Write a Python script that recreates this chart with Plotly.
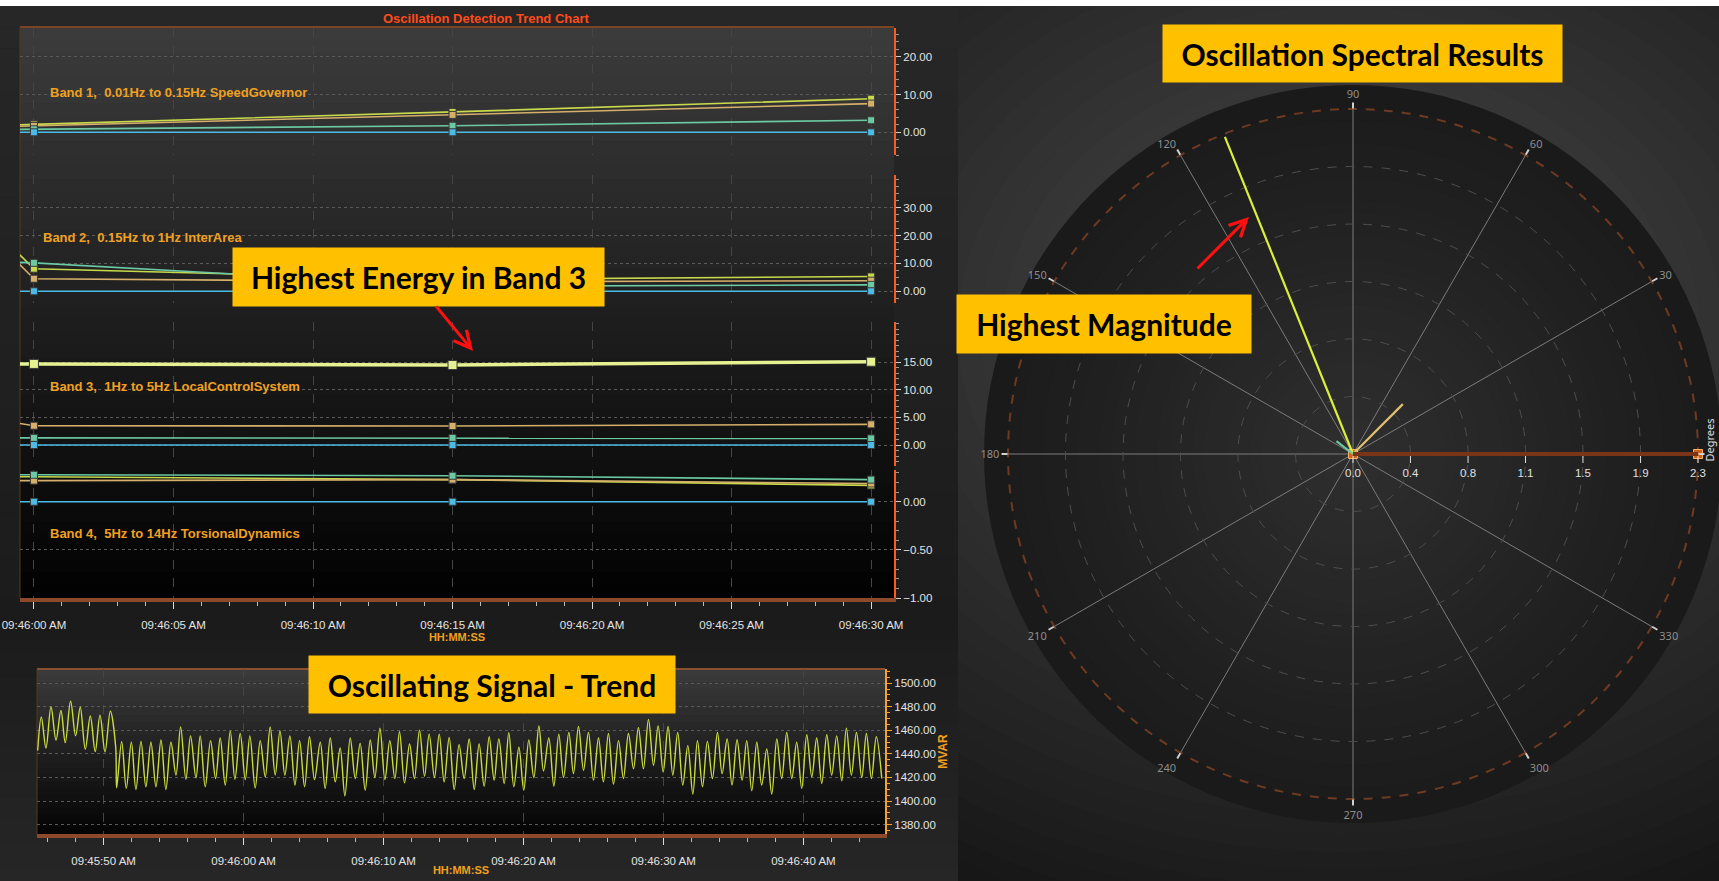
import plotly.graph_objects as go
import pandas as pd

W, H = 1719, 881

# ------------------------------------------------------------------ data
trend_times = ["2024-01-01 09:45:59", "2024-01-01 09:46:00",
               "2024-01-01 09:46:15", "2024-01-01 09:46:30"]
series_names = ["Signal A", "Signal B", "Signal C", "Signal D"]

band_labels = ["Band 1,  0.01Hz to 0.15Hz SpeedGovernor",
               "Band 2,  0.15Hz to 1Hz InterArea",
               "Band 3,  1Hz to 5Hz LocalControlSystem",
               "Band 4,  5Hz to 14Hz TorsionalDynamics"]

band1_values = [[1.9, 2.1, 5.4, 8.9], [1.5, 1.7, 4.6, 7.6],
                [0.74, 0.8, 1.75, 3.2], [0.0, 0.0, 0.0, 0.0]]
band2_values = [[17.9, 8.1, 4.2, 5.3], [14.5, 4.5, 3.4, 3.8],
                [10.5, 10.2, 1.8, 2.3], [0.0, 0.0, 0.0, 0.0]]
band3_values = [[14.7, 14.7, 14.5, 15.1], [4.3, 3.5, 3.45, 3.75],
                [1.3, 1.3, 1.3, 1.2], [0.0, 0.0, 0.0, 0.0]]
band4_values = [[0.26, 0.26, 0.23, 0.17], [0.22, 0.22, 0.23, 0.19],
                [0.28, 0.28, 0.27, 0.23], [0.0, 0.0, 0.0, 0.0]]

band_tickvals = [[0, 10, 20], [0, 10, 20, 30], [0, 5, 10, 15], [-1, -0.5, 0]]

signal_base = "2024-01-01 09:45:45"
signal_offsets_s = [
    0.29, 0.55, 0.88, 1.24, 1.60, 1.95, 2.26, 2.64, 3.00, 3.33, 3.69, 4.05, 4.40, 4.74,
    5.10, 5.48, 5.86, 5.93, 6.29, 6.62, 6.98, 7.31, 7.67, 8.02, 8.38, 8.74, 9.10, 9.45,
    9.81, 10.17, 10.50, 10.88, 11.21, 11.60, 11.90, 12.26, 12.64, 13.00, 13.33, 13.69,
    14.05, 14.38, 14.76, 15.12, 15.45, 15.83, 16.19, 16.55, 16.90, 17.26, 17.60, 17.95,
    18.31, 18.67, 19.00, 19.36, 19.71, 20.07, 20.48, 20.83, 21.19, 21.55, 21.90, 22.24,
    22.62, 22.98, 23.33, 23.69, 24.05, 24.38, 24.74, 25.10, 25.45, 25.81, 26.14, 26.50,
    26.86, 27.21, 27.57, 27.93, 28.26, 28.64, 28.98, 29.33, 29.69, 30.05, 30.40, 30.76,
    31.12, 31.48, 31.83, 32.19, 32.55, 32.90, 33.24, 33.62, 33.95, 34.31, 34.67, 35.02,
    35.38, 35.74, 36.10, 36.43, 36.81, 37.17, 37.52, 37.86, 38.24, 38.57, 38.93, 39.29,
    39.64, 40.00, 40.36, 40.71, 41.07, 41.43, 41.79, 42.14, 42.50, 42.86, 43.21, 43.57,
    43.93, 44.29, 44.62, 44.98, 45.33, 45.67, 46.02, 46.38, 46.74, 47.10, 47.43, 47.79,
    48.14, 48.50, 48.86, 49.19, 49.55, 49.90, 50.26, 50.62, 50.95, 51.31, 51.67, 52.02,
    52.38, 52.74, 53.10, 53.45, 53.81, 54.17, 54.52, 54.88, 55.24, 55.60, 55.95, 56.31,
    56.67, 57.02, 57.38, 57.74, 58.07, 58.43, 58.79, 59.17, 59.50, 59.86, 60.21, 60.60]
signal_mvar = [
    1442.8, 1471.3, 1445.0, 1479.9, 1451.7, 1476.8, 1449.5, 1484.6, 1455.3, 1479.6, 1443.9, 1472.1, 1441.9, 1472.9,
    1441.7, 1476.3, 1446.1, 1411.2, 1450.3, 1410.7, 1449.8, 1409.8, 1450.6, 1412.1, 1449.8, 1412.1, 1451.7, 1409.8,
    1449.8, 1421.9, 1462.9, 1418.5, 1455.3, 1419.6, 1455.3, 1412.1, 1451.2, 1419.1, 1453.4, 1413.5,
    1459.5, 1418.5, 1457.3, 1418.2, 1455.3, 1411.0, 1451.2, 1420.5, 1462.9, 1422.1, 1459.5, 1421.9,
    1455.3, 1413.5, 1451.2, 1412.1, 1454.5, 1418.2, 1449.8, 1410.7, 1453.4, 1416.3, 1445.0, 1404.3,
    1453.4, 1419.1, 1448.9, 1409.3, 1451.7, 1419.9, 1461.8, 1418.2, 1451.2, 1419.1, 1458.7, 1415.4,
    1448.4, 1419.1, 1460.1, 1421.0, 1456.7, 1419.9, 1456.7, 1416.3, 1453.9, 1409.8, 1447.8, 1419.1,
    1452.6, 1409.8, 1448.4, 1412.6, 1454.5, 1417.7, 1452.6, 1414.9, 1457.9, 1412.1, 1445.6, 1409.3,
    1451.7, 1419.9, 1463.7, 1425.5, 1453.4, 1412.6, 1456.7, 1419.9, 1458.1, 1423.2, 1463.2, 1426.0,
    1458.1, 1417.7, 1453.4, 1416.3, 1457.3, 1414.3, 1451.2, 1419.1, 1457.3, 1427.4, 1462.3, 1427.4,
    1469.3, 1430.2, 1463.7, 1424.6, 1463.2, 1421.9, 1458.1, 1413.5, 1447.0, 1405.9, 1451.2, 1412.1,
    1450.6, 1419.1, 1458.1, 1423.2, 1452.6, 1413.5, 1452.0, 1417.7, 1451.2, 1408.7, 1449.8, 1413.5,
    1444.2, 1405.9, 1452.6, 1419.1, 1458.1, 1419.1, 1449.8, 1410.7, 1456.2, 1420.5, 1453.4, 1414.9,
    1456.2, 1421.9, 1455.3, 1417.1, 1461.8, 1421.9, 1458.1, 1419.9, 1457.3, 1419.1, 1454.5, 1419.1]
signal_ticks = [1380, 1400, 1420, 1440, 1460, 1480, 1500]

spectral_magnitude = [2.28, 0.47, 0.14, 0.0]
spectral_angle_deg = [112, 45, 142, 0]
radial_range = [0, 2.3]
radial_tickvals = [0, 0.383, 0.767, 1.15, 1.533, 1.917, 2.3]
radial_ticktext = ["0.0", "0.4", "0.8", "1.1", "1.5", "1.9", "2.3"]
angular_tickvals = [0, 30, 60, 90, 120, 150, 180, 210, 240, 270, 300, 330]
angular_ticktext = ["", "30", "60", "90", "120", "150", "180", "210", "240", "270", "300", "330"]

# ------------------------------------------------------------------ helpers
def px(x):
    return x / W


def py(y):
    return 1 - y / H


def hex2rgb(c):
    c = c.lstrip("#")
    return [int(c[i:i + 2], 16) for i in (0, 2, 4)]


def mix(c0, c1, t):
    a, b = hex2rgb(c0), hex2rgb(c1)
    return "rgb(%d,%d,%d)" % tuple(round(a[i] + (b[i] - a[i]) * t) for i in range(3))


shapes = []


def vgrad(x0, x1, y0, y1, c0, c1, n=40):
    step = (y1 - y0) / n
    for i in range(n):
        shapes.append(dict(type="rect", xref="paper", yref="paper", layer="below",
                           x0=px(x0), x1=px(x1), y0=py(y0 + i * step),
                           y1=py(min(y1, y0 + (i + 1) * step + 0.6)),
                           fillcolor=mix(c0, c1, i / (n - 1)), line=dict(width=0)))


def rgrad(cx, cy, rx, ry, c_out, c_in, n=30):
    for i in range(n):
        f = 1 - i / n
        shapes.append(dict(type="circle", xref="paper", yref="paper", layer="below",
                           x0=px(cx - rx * f), x1=px(cx + rx * f),
                           y0=py(cy + ry * f), y1=py(cy - ry * f),
                           fillcolor=mix(c_out, c_in, i / (n - 1)), line=dict(width=0)))


SANS = "'Liberation Sans', Arial, sans-serif"
ORANGE = "#f0a020"

# ------------------------------------------------------------------ backgrounds
rgrad(1340, 330, 900, 720, "#0f0f0f", "#4a4a4a", n=40)          # right panel glow
vgrad(0, 958, 6, 640, "#272727", "#1b1b1b", n=30)                # left top panel
vgrad(0, 958, 640, 881, "#1c1c1c", "#262626", n=20)              # left bottom panel
vgrad(20, 894, 27, 598, "#3b3b3b", "#020202", n=45)              # top plot area
vgrad(37, 885, 669, 834, "#3a3a3a", "#050505", n=25)             # bottom plot area
# polar bezel + disk
shapes.append(dict(type="circle", xref="paper", yref="paper", layer="below",
                   x0=px(1353 - 369), x1=px(1353 + 369), y0=py(454 + 369), y1=py(454 - 369),
                   fillcolor="#1a1a1a", line=dict(width=0)))
rgrad(1353, 454, 345, 345, "#1c1c1c", "#2e2e2e", n=30)
shapes.append(dict(type="circle", xref="paper", yref="paper", layer="below",
                   x0=px(1353 - 345), x1=px(1353 + 345), y0=py(454 + 345), y1=py(454 - 345),
                   line=dict(color="#6e3a22", width=2, dash="dash")))
# white strip at very top
shapes.append(dict(type="rect", xref="paper", yref="paper", layer="above",
                   x0=0, x1=1, y0=py(6), y1=1, fillcolor="#ffffff", line=dict(width=0)))
# plot borders
shapes.append(dict(type="line", xref="paper", yref="paper", layer="below",
                   x0=px(20), x1=px(894), y0=py(27), y1=py(27), line=dict(color="#7a4524", width=2)))
shapes.append(dict(type="line", xref="paper", yref="paper", layer="below",
                   x0=px(20), x1=px(20), y0=py(27), y1=py(598), line=dict(color="#5a3620", width=1)))
shapes.append(dict(type="line", xref="paper", yref="paper", layer="below",
                   x0=px(37), x1=px(885), y0=py(669), y1=py(669), line=dict(color="#8a5030", width=2)))
shapes.append(dict(type="line", xref="paper", yref="paper", layer="below",
                   x0=px(37), x1=px(37), y0=py(669), y1=py(834), line=dict(color="#5a3620", width=1)))

# ------------------------------------------------------------------ traces
fig = go.Figure()
trend_x = pd.to_datetime(trend_times)
colors = ["#c8da4c", "#d6b06a", "#6cc9a4", "#4cbce6"]
bands = [band1_values, band2_values, band3_values, band4_values]
yaxes = ["y", "y2", "y3", "y4"]
for b, vals in enumerate(bands):
    for s, v in enumerate(vals):
        col = colors[s]
        width, msize = 1.6, 7
        if b == 2 and s == 0:
            col, width, msize = "#e6f292", 3.5, 9
        fig.add_trace(go.Scatter(
            x=trend_x, y=v, mode="lines+markers", name=series_names[s], showlegend=False,
            xaxis="x", yaxis=yaxes[b], line=dict(color=col, width=width),
            marker=dict(symbol="square", size=msize, color=col, line=dict(color="#3a3a3a", width=1))))

sig_x = pd.Timestamp(signal_base) + pd.to_timedelta(signal_offsets_s, unit="s")
fig.add_trace(go.Scatter(x=sig_x, y=signal_mvar, mode="lines", showlegend=False,
                         xaxis="x2", yaxis="y5",
                         line=dict(color="#cbdc3e", width=1.4, shape="spline", smoothing=1.0)))

fig.add_trace(go.Scatterpolar(r=radial_range, theta=[0, 0], mode="markers", showlegend=False,
                              marker=dict(symbol="square", size=9, color="#c8641e",
                                          line=dict(color="#ffb060", width=1))))
for m, a, c in zip(spectral_magnitude, spectral_angle_deg,
                   ["#d8f03a", "#e0c070", "#6cc9a4", "#4cbce6"]):
    fig.add_trace(go.Scatterpolar(r=[0, m], theta=[a, a], mode="lines", showlegend=False,
                                  line=dict(color=c, width=2.2)))

# ------------------------------------------------------------------ axes
tick_font = dict(family=SANS, size=11.5, color="#e4e4e4")
seg = [(28, 155), (175, 303), (322, 466), (470, 598)]
ranges = [[-6.0, 27.6], [-4.2, 41.7], [-3.8, 22.3], [-1.0, 0.33]]
minor_dt = [2, 2.5, 1, 0.1]
layout_axes = {}
for i in range(4):
    key = "yaxis" if i == 0 else "yaxis%d" % (i + 1)
    layout_axes[key] = dict(
        domain=[py(seg[i][1]), py(seg[i][0])], range=ranges[i], side="right", anchor="x",
        tickmode="array", tickvals=band_tickvals[i], tickformat=".2f", tickfont=tick_font,
        showline=True, linecolor="#ff5a1e", linewidth=2, ticks="outside", ticklen=5,
        tickcolor="#cfcfcf", minor=dict(ticks="outside", ticklen=3, tickcolor="#9a9a9a", dtick=minor_dt[i]),
        showgrid=True, gridcolor="#5a5a5a", griddash="dot", gridwidth=1, zeroline=False,
        automargin=False, fixedrange=True)

layout_axes["xaxis"] = dict(
    domain=[px(20), px(894)], anchor="y4", type="date",
    range=["2024-01-01 09:45:59.5", "2024-01-01 09:46:30.82"],
    tickformat="%I:%M:%S %p", tick0="2024-01-01 09:46:00", dtick=5000,
    ticks="outside", ticklen=7, tickcolor="#dddddd", tickwidth=1, ticklabelstandoff=6,
    minor=dict(ticks="outside", ticklen=4, tickcolor="#bbbbbb", dtick=1000),
    tickfont=tick_font, showline=True, linecolor="#8c4a2a", linewidth=4,
    showgrid=True, gridcolor="#454545", griddash="dash", gridwidth=1, zeroline=False,
    automargin=False,
    title=dict(text="<b>HH:MM:SS</b>", font=dict(family=SANS, size=11, color=ORANGE), standoff=2))

layout_axes["xaxis2"] = dict(
    domain=[px(37), px(885)], anchor="y5", type="date",
    range=["2024-01-01 09:45:45.24", "2024-01-01 09:46:45.83"],
    tickformat="%I:%M:%S %p", tick0="2024-01-01 09:45:50", dtick=10000,
    ticks="outside", ticklen=7, tickcolor="#dddddd", ticklabelstandoff=6,
    minor=dict(ticks="outside", ticklen=4, tickcolor="#bbbbbb", dtick=2000),
    tickfont=tick_font, showline=True, linecolor="#8c4a2a", linewidth=4,
    showgrid=True, gridcolor="#454545", griddash="dash", zeroline=False,
    automargin=False,
    title=dict(text="<b>HH:MM:SS</b>", font=dict(family=SANS, size=11, color=ORANGE), standoff=2))
layout_axes["yaxis5"] = dict(
    domain=[py(834), py(669)], anchor="x2", side="right", range=[1372, 1512],
    tickmode="array", tickvals=signal_ticks, tickformat=".2f", tickfont=tick_font,
    showline=True, linecolor="#f5a030", linewidth=2, ticks="outside", ticklen=5,
    tickcolor="#f5a030", minor=dict(ticks="outside", ticklen=3, tickcolor="#f5a030", dtick=5),
    showgrid=True, gridcolor="#5a5a5a", griddash="dot", zeroline=False, automargin=False,
    title=dict(text="<b>MVAR</b>", font=dict(family=SANS, size=12, color=ORANGE), standoff=4))

polar = dict(
    domain=dict(x=[px(1353 - 345), px(1353 + 345)], y=[py(454 + 345), py(454 - 345)]),
    bgcolor="rgba(0,0,0,0)",
    radialaxis=dict(range=radial_range, angle=0, tickmode="array", tickvals=radial_tickvals,
                    ticktext=radial_ticktext, ticks="outside", ticklen=7, tickcolor="#e0e0e0",
                    tickfont=dict(family=SANS, size=11.5, color="#e0e0e0"),
                    showline=True, linecolor="#7a3518", linewidth=4,
                    showgrid=True, gridcolor="#4e4e4e", griddash="dash", gridwidth=1.2),
    angularaxis=dict(rotation=0, direction="counterclockwise", tickmode="array",
                     tickvals=angular_tickvals, ticktext=angular_ticktext,
                     ticks="outside", ticklen=6, tickcolor="#d0d0d0", tickwidth=2,
                     tickfont=dict(family="Noto Sans", size=11, color="#8f8f8f"),
                     showline=False, showgrid=True, gridcolor="#7c7c7c", gridwidth=1))

# ------------------------------------------------------------------ annotations
ann = []
ann.append(dict(text="<b>Oscillation Detection Trend Chart</b>", x=px(486), y=py(18),
                xref="paper", yref="paper", xanchor="center", yanchor="middle", showarrow=False,
                font=dict(family=SANS, size=13, color="#ff4a1a")))
band_label_pos = [(48, 92), (41, 238), (48, 386), (48, 533)]
for lbl, (lx, ly) in zip(band_labels, band_label_pos):
    ann.append(dict(text="<b>%s</b>" % lbl, x=px(lx), y=py(ly), xref="paper", yref="paper",
                    xanchor="left", yanchor="middle", showarrow=False,
                    font=dict(family=SANS, size=13, color=ORANGE)))

boxes = [("Highest Energy in Band 3", 232, 247, 371, 58),
         ("Oscillating Signal - Trend", 308, 655, 366, 57),
         ("Oscillation Spectral Results", 1162, 24, 399, 57),
         ("Highest Magnitude", 956, 294, 294, 58)]
for txt, bx, by, bw, bh in boxes:
    ann.append(dict(text="<b>%s</b>" % txt, x=px(bx), y=py(by), xref="paper", yref="paper",
                    xanchor="left", yanchor="top", showarrow=False, width=bw, height=bh,
                    bgcolor="#ffc000", borderpad=0, align="center", valign="middle",
                    font=dict(family="Lato, 'Open Sans', sans-serif", size=30, color="#000000")))

for (hx, hy, tx, ty) in [(473, 351, 435, 305), (1249, 217, 1196, 270)]:
    ann.append(dict(text="", x=px(hx), y=py(hy), xref="paper", yref="paper",
                    ax=tx - hx, ay=ty - hy, showarrow=True, arrowhead=5, arrowsize=1.1,
                    arrowwidth=3, arrowcolor="#ff1010", standoff=0))

ann.append(dict(text="Degrees", x=px(1718), y=py(440), xref="paper", yref="paper",
                xanchor="right", yanchor="middle", textangle=-90, showarrow=False,
                font=dict(family="Noto Sans", size=11, color="#e0e0e0")))

fig.update_layout(width=W, height=H, margin=dict(l=0, r=0, t=0, b=0, autoexpand=False),
                  paper_bgcolor="#1a1a1a", plot_bgcolor="rgba(0,0,0,0)",
                  showlegend=False, shapes=shapes, annotations=ann, polar=polar,
                  **layout_axes)

fig.write_html("out.html")
